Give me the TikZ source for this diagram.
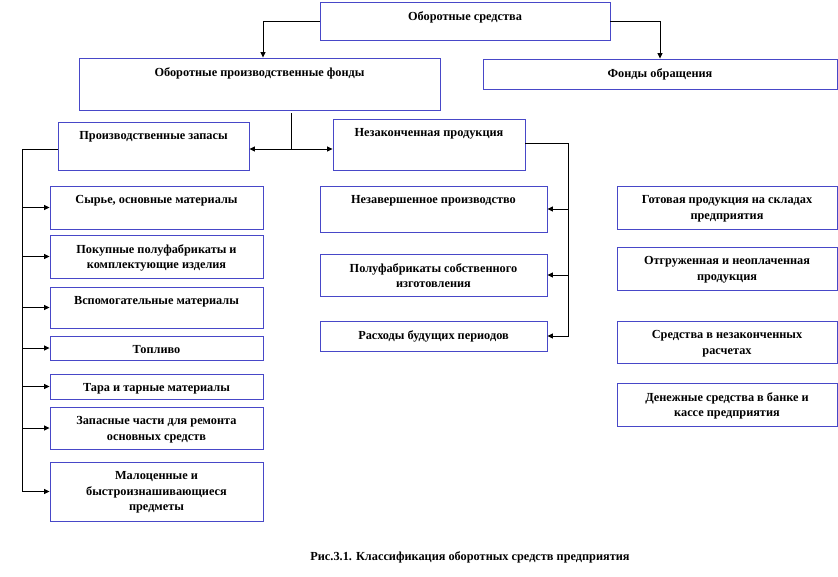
\documentclass[tikz,border=0pt]{standalone}
\usepackage{fontspec}
\setmainfont{Liberation Serif}
\usetikzlibrary{arrows.meta}

\definecolor{boxline}{RGB}{72,72,200}

\tikzset{
  box/.style={draw=boxline, line width=0.9pt, rectangle, inner sep=0pt},
  txt/.style={font=\bfseries\fontsize{12.3}{15.5}\selectfont, align=center,
              anchor=north, inner sep=0pt, yshift=-9.5pt},
}

\begin{document}
\begin{tikzpicture}[x=1pt, y=-1pt, line width=0.8pt,
  >={Triangle[length=5.5pt,width=5pt]}]
\useasboundingbox (0,0) rectangle (838,576);

% upper levels
\node[box, minimum width=290, minimum height=38, label={[txt]north:Оборотные средства}] (os) at (465,21) {};
\node[box, minimum width=361, minimum height=52, label={[txt]north:Оборотные производственные фонды}] (opf) at (259.5,84) {};
\node[box, minimum width=354, minimum height=30, label={[txt]north:Фонды обращения}] (fo) at (660,74) {};
\node[box, minimum width=191, minimum height=48, label={[txt]north:Производственные запасы}] (pz) at (153.5,146) {};
\node[box, minimum width=192, minimum height=51, label={[txt]north:Незаконченная продукция}] (np) at (429,144.5) {};

% production stocks
\node[box, minimum width=213, minimum height=43, label={[txt]north:Сырье, основные материалы}] (s1) at (156.5,207.5) {};
\node[box, minimum width=213, minimum height=43, label={[txt]north:{Покупные полуфабрикаты и\\комплектующие изделия}}] (s2) at (156.5,256.5) {};
\node[box, minimum width=213, minimum height=41, label={[txt]north:Вспомогательные материалы}] (s3) at (156.5,307.5) {};
\node[box, minimum width=213, minimum height=24, label={[txt]north:Топливо}] (s4) at (156.5,348) {};
\node[box, minimum width=213, minimum height=25, label={[txt]north:Тара и тарные материалы}] (s5) at (156.5,386.5) {};
\node[box, minimum width=213, minimum height=42, label={[txt]north:{Запасные части для ремонта\\основных средств}}] (s6) at (156.5,428) {};
\node[box, minimum width=213, minimum height=59, label={[txt]north:{Малоценные и\\быстроизнашивающиеся\\предметы}}] (s7) at (156.5,491.5) {};

% unfinished products
\node[box, minimum width=227, minimum height=46, label={[txt]north:Незавершенное производство}] (m1) at (433.5,209) {};
\node[box, minimum width=227, minimum height=42, label={[txt]north:{Полуфабрикаты собственного\\изготовления}}] (m2) at (433.5,275) {};
\node[box, minimum width=227, minimum height=30, label={[txt]north:Расходы будущих периодов}] (m3) at (433.5,336) {};

% circulation funds
\node[box, minimum width=220, minimum height=43, label={[txt]north:{Готовая продукция на складах\\предприятия}}] (r1) at (727,207.5) {};
\node[box, minimum width=220, minimum height=43, label={[txt]north:{Отгруженная и неоплаченная\\продукция}}] (r2) at (727,268.5) {};
\node[box, minimum width=220, minimum height=42, label={[txt]north:{Средства в незаконченных\\расчетах}}] (r3) at (727,342) {};
\node[box, minimum width=220, minimum height=43, label={[txt]north:{Денежные средства в банке и\\кассе предприятия}}] (r4) at (727,404.5) {};

\node[txt, anchor=center, yshift=0pt] (cap) at (470,548) {Рис.3.1. Классификация оборотных средств предприятия};

% connectors
\draw[->] (os.west) -| ([xshift=3.5pt]opf.north);
\draw[->] (os.east) -| (fo.north);

\coordinate (split) at (291,149);
\draw ([yshift=-3pt]opf.south -| split) -- (split);
\draw[->] (split) -- (split -| pz.east);
\draw[->] (split) -- (split -| np.west);

\coordinate (lbus) at (22,149);
\draw (lbus -| pz.west) -- (lbus);
\foreach \n in {s1,s2,s3,s4,s5,s6}
  \draw[->] (lbus |- \n.west) -- (\n.west);
\draw[->] (lbus) |- (s7.west);

\coordinate (rbus) at (568,143);
\draw (rbus -| np.east) -- (rbus);
\foreach \n in {m1,m2}
  \draw[->] (rbus |- \n.east) -- (\n.east);
\draw[->] (rbus) |- (m3.east);
\end{tikzpicture}
\end{document}
